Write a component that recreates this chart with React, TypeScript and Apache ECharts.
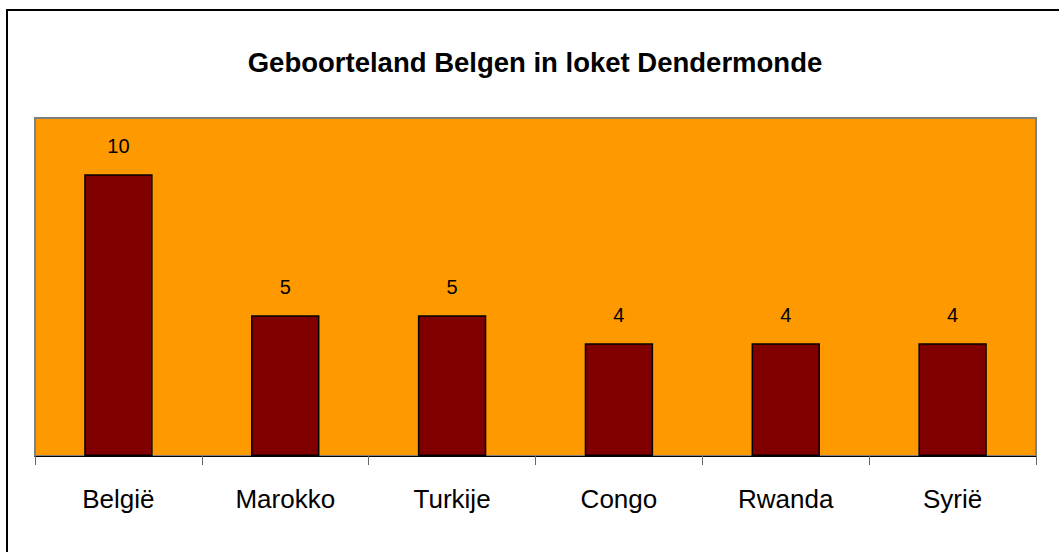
import React, { useEffect, useRef } from "react";
import * as echarts from "echarts";

const titleText = "Geboorteland Belgen in loket Dendermonde";
const categories = ["België", "Marokko", "Turkije", "Congo", "Rwanda", "Syrië"];
const values = [10, 5, 5, 4, 4, 4];

export default function App() {
  const ref = useRef<HTMLDivElement>(null);
  useEffect(() => {
    if (!ref.current) return;
    const chart = echarts.init(ref.current, undefined, { renderer: "svg" });
    chart.setOption({
      animation: false,
      backgroundColor: "#ffffff",
      textStyle: { fontFamily: "Liberation Sans, Arial, sans-serif" },
      title: {
        text: titleText,
        left: 530,
        top: 43,
        textAlign: "center",
        textStyle: {
          fontFamily: "Liberation Sans, Arial, sans-serif",
          fontSize: 27.5,
          fontWeight: "bold",
          color: "#000000",
        },
      },
      graphic: [
        {
          type: "polyline",
          shape: { points: [[7, 560], [7, 10], [1070, 10]] },
          style: { stroke: "#000000", lineWidth: 2, fill: "none" },
          silent: true,
        },
      ],
      grid: {
        left: 35,
        right: 23,
        top: 118,
        bottom: 96,
        show: true,
        backgroundColor: "#FF9900",
        borderColor: "#808080",
        borderWidth: 2,
      },
      xAxis: {
        type: "category",
        data: categories,
        axisLine: { show: true, lineStyle: { color: "#000000", width: 1 } },
        axisTick: { show: true, length: 9, lineStyle: { color: "#666666" } },
        axisLabel: {
          margin: 30,
          fontSize: 26,
          color: "#000000",
          fontFamily: "Liberation Sans, Arial, sans-serif",
        },
        splitLine: { show: false },
      },
      yAxis: {
        type: "value",
        min: 0,
        max: 12,
        show: false,
        splitLine: { show: false },
      },
      series: [
        {
          type: "bar",
          data: values,
          barWidth: "41%",
          itemStyle: { color: "#800000", borderColor: "#000000", borderWidth: 1.5 },
          label: {
            show: true,
            position: "top",
            distance: 18,
            fontSize: 20,
            color: "#000000",
            fontFamily: "Liberation Sans, Arial, sans-serif",
          },
        },
      ],
    });
    return () => chart.dispose();
  }, []);
  return (
    <div
      ref={ref}
      style={{ position: "fixed", left: 0, top: 0, width: 1059, height: 552 }}
    />
  );
}
